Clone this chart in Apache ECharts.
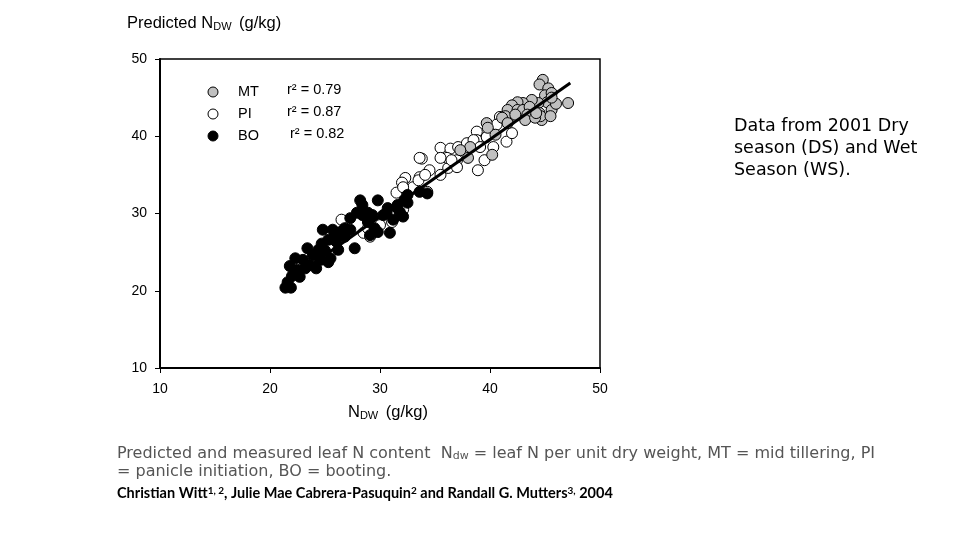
<!DOCTYPE html>
<html>
<head>
<meta charset="utf-8">
<script src="https://cdn.jsdelivr.net/npm/echarts@6/dist/echarts.min.js"></script>
<style>
html,body{margin:0;padding:0;background:#fff;}
#c{width:960px;height:540px;}
</style>
</head>
<body>
<div id="c"></div>
<script>
// Data (measured N_DW, predicted N_DW), g/kg
var xTicks = [10, 20, 30, 40, 50];
var yTicks = [10, 20, 30, 40, 50];

var mtPoints = [
  [44.8,47.3],[44.5,46.7],[45.3,46.2],[45.0,45.3],[45.6,45.6],[45.2,44.4],
  [44.4,44.3],[43.8,44.7],[43.0,44.3],[42.5,44.4],[42.0,44.0],[41.6,43.4],
  [42.5,43.4],[43.0,43.4],[43.6,43.8],[44.5,43.0],[45.6,43.4],[47.1,44.3],
  [44.7,42.1],[41.4,42.6],[42.3,42.8],[43.4,42.8],[44.6,42.6],[45.5,42.6],
  [41.1,42.4],[41.6,41.7],[39.7,41.7],[39.8,41.1],[38.2,38.6],[38.0,37.2],
  [40.2,37.6],[37.3,38.2],[40.5,40.2],[43.2,42.1],[44.1,42.4],[46.0,44.2],
  [45.6,45.0],[44.2,43.0]
];

var piPoints = [
  [33.8,37.1],[35.5,38.5],[36.4,38.4],[37.1,38.6],[38.8,40.6],[40.9,42.5],
  [40.6,41.5],[41.5,39.3],[42.0,40.4],[38.9,35.6],[39.5,36.9],[38.8,39.5],
  [37.9,39.1],[37.0,36.9],[36.2,35.9],[35.5,35.0],[34.5,35.6],[33.6,34.7],
  [32.3,34.6],[33.0,33.4],[31.5,32.7],[34.3,32.8],[37.0,36.0],[40.3,38.6],
  [36.1,37.2],[32.0,34.0],[33.5,34.3],[34.1,35.0],[32.1,30.5],[31.1,28.9],
  [28.5,27.5],[28.9,28.1],[26.5,29.2],[32.1,33.4],[41.6,42.1],[39.7,39.9],
  [38.5,39.5],[39.1,38.6],[35.5,37.2],[36.5,36.9],[33.6,37.2],[29.1,27.0],
  [30.0,28.5]
];

var boPoints = [
  [21.4,20.4],[21.9,20.4],[21.8,23.2],[22.5,22.7],[22.7,21.8],[22.0,21.9],
  [23.0,24.0],[23.6,23.3],[24.2,22.9],[23.9,24.6],[24.4,25.3],[24.7,26.1],
  [24.8,27.9],[25.3,26.6],[25.5,24.2],[25.9,27.2],[26.4,27.6],[26.8,27.0],
  [26.2,25.3],[25.3,23.7],[27.7,25.5],[27.3,27.9],[26.8,28.1],[28.4,31.1],
  [28.4,29.8],[28.9,28.9],[29.3,29.8],[29.8,31.7],[29.1,27.2],[29.5,28.1],
  [30.3,29.8],[30.7,30.7],[31.2,29.2],[31.6,31.1],[32.2,31.7],[31.8,30.2],
  [29.8,27.6],[33.6,32.8],[32.5,32.4],[28.2,31.7],[28.9,30.1],[30.6,30.1],
  [31.5,30.8],[32.5,31.4],[34.3,32.6],[25.7,27.9],[32.1,29.6],[21.6,21.1],
  [23.2,22.9],[22.3,24.2],[27.9,30.1],[27.3,29.4],[30.9,27.5],[24.6,24.0],
  [25.0,25.2],[23.4,25.5],[26.0,26.4]
];

var fitLine = [[21.5,21.1],[47.3,46.9]];

var legendNames = ['MT', 'PI', 'BO'];
var legendR2 = ['r\u00B2 = 0.79', 'r\u00B2 = 0.87', 'r\u00B2 = 0.82'];
var legendFill = ['#c0c0c0', '#ffffff', '#000000'];

var chart = echarts.init(document.getElementById('c'));

var axisFont = 'Liberation Sans, Arial, sans-serif';

var legendGraphics = [];
for (var i = 0; i < legendNames.length; i++) {
  var cy = 92 + i * 22;
  legendGraphics.push({
    type: 'circle', shape: {cx: 213, cy: cy, r: 5},
    style: {fill: legendFill[i], stroke: '#000', lineWidth: 1}, z: 20
  });
  legendGraphics.push({
    type: 'text', left: 238, top: cy - 8,
    style: {text: legendNames[i], font: '14.5px ' + axisFont, fill: '#000'}, z: 20
  });
  legendGraphics.push({
    type: 'text', left: (i === 2 ? 290 : 287), top: cy - 10,
    style: {text: legendR2[i], font: '14.5px ' + axisFont, fill: '#000'}, z: 20
  });
}

var option = {
  backgroundColor: '#fff',
  animation: false,
  grid: {left: 160, top: 59, width: 440, height: 309, show: true, borderColor: '#000', borderWidth: 1.5},
  xAxis: {
    type: 'value', min: 10, max: 50, interval: 10,
    axisLine: {show: true, lineStyle: {color: '#000', width: 2}},
    axisTick: {show: true, inside: false, length: 5, lineStyle: {color: '#000', width: 1}},
    axisLabel: {color: '#000', fontSize: 14, fontFamily: axisFont, margin: 14,
      formatter: function(v){ return xTicks.indexOf(v) >= 0 ? String(v) : ''; }},
    splitLine: {show: false}
  },
  yAxis: {
    type: 'value', min: 10, max: 50, interval: 10,
    axisLine: {show: true, lineStyle: {color: '#000', width: 2}},
    axisTick: {show: true, inside: false, length: 5, lineStyle: {color: '#000', width: 1}},
    axisLabel: {color: '#000', fontSize: 14, fontFamily: axisFont, margin: 13,
      formatter: function(v){ return yTicks.indexOf(v) >= 0 ? String(v) : ''; }},
    splitLine: {show: false}
  },
  series: [
    {
      name: 'PI', type: 'scatter', data: piPoints, symbol: 'circle', symbolSize: 11,
      itemStyle: {color: '#ffffff', borderColor: '#000', borderWidth: 1, opacity: 1}, z: 2
    },
    {
      name: 'MT', type: 'scatter', data: mtPoints, symbol: 'circle', symbolSize: 11,
      itemStyle: {color: '#c0c0c0', borderColor: '#000', borderWidth: 1, opacity: 1}, z: 3
    },
    {
      name: 'BO', type: 'scatter', data: boPoints, symbol: 'circle', symbolSize: 11,
      itemStyle: {color: '#000000', borderColor: '#000', borderWidth: 1, opacity: 1}, z: 4
    },
    {
      name: 'fit', type: 'line', data: fitLine, symbol: 'none', silent: true,
      lineStyle: {color: '#000', width: 3}, z: 5
    }
  ],
  graphic: [
    {
      type: 'text', left: 127, top: 15, z: 20,
      style: {
        text: '{m|Predicted N}{s|DW}{m| (g/kg)}',
        rich: {
          m: {font: '16.5px ' + axisFont, fill: '#000', verticalAlign: 'bottom'},
          s: {font: '11px ' + axisFont, fill: '#000', padding: [0,3,0,0], verticalAlign: 'bottom'}
        }
      }
    },
    {
      type: 'text', left: 348, top: 404, z: 20,
      style: {
        text: '{m|N}{s|DW}{m| (g/kg)}',
        rich: {
          m: {font: '16.5px ' + axisFont, fill: '#000', verticalAlign: 'bottom'},
          s: {font: '11px ' + axisFont, fill: '#000', padding: [0,3,0,0], verticalAlign: 'bottom'}
        }
      }
    },
    {
      type: 'text', left: 734, top: 115, z: 20,
      style: {
        text: 'Data from 2001 Dry\nseason (DS) and Wet\nSeason (WS).',
        font: '17.5px DejaVu Sans, Verdana, sans-serif', fill: '#000', lineHeight: 22
      }
    },
    {
      type: 'text', left: 117, top: 446, z: 20,
      style: {
        text: '{m|Predicted and measured leaf N content  N}{s|dw}{m| = leaf N per unit dry weight, MT = mid tillering, PI}\n{m|= panicle initiation, BO = booting.}',
        rich: {
          m: {font: '16px DejaVu Sans, Verdana, sans-serif', fill: '#555', lineHeight: 18, verticalAlign: 'bottom'},
          s: {font: '11px DejaVu Sans, Verdana, sans-serif', fill: '#555', lineHeight: 18, verticalAlign: 'bottom'}
        }
      }
    },
    {
      type: 'text', left: 117, top: 486, z: 20,
      style: {
        text: '{m|Christian Witt}{p|1, 2}{m|, Julie Mae Cabrera-Pasuquin}{p|2}{m| and Randall G. Mutters}{p|3,}{m| 2004}',
        rich: {
          m: {font: 'bold 14.5px Lato, Open Sans, sans-serif', fill: '#000', verticalAlign: 'top', lineHeight: 17},
          p: {font: 'bold 10px Lato, Open Sans, sans-serif', fill: '#000', verticalAlign: 'top', lineHeight: 17}
        }
      }
    }
  ].concat(legendGraphics)
};

chart.setOption(option);
</script>
</body>
</html>
